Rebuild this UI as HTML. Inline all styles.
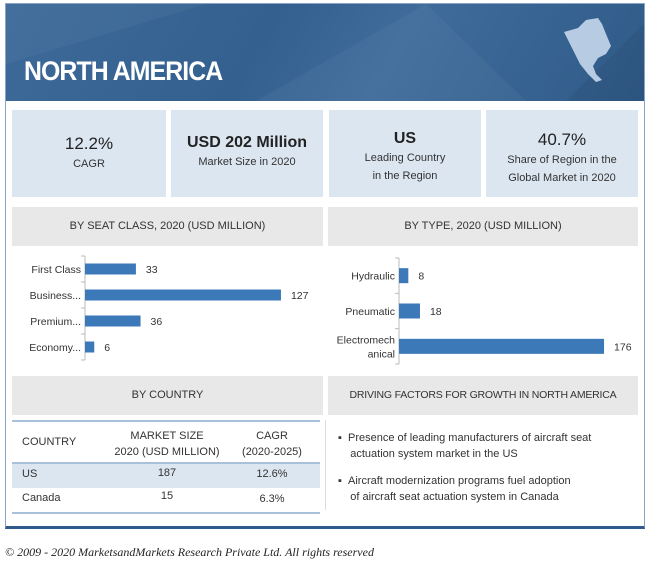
<!DOCTYPE html>
<html><head><meta charset="utf-8">
<style>
body{margin:0;width:650px;height:564px;background:#fff;font-family:"Liberation Sans",sans-serif;position:relative;overflow:hidden}
.a{position:absolute}
.frame{left:5px;top:3px;width:638px;height:522px;border:1px solid #8aa4c4;border-bottom:3px solid #2f5b8c}
.hdr{left:6px;top:4px;width:638px;height:97px;background:linear-gradient(120deg,#3d6a99 0%,#34608f 40%,#3f6c9b 60%,#2f5a88 100%)}
.kpi{top:110px;height:87px;background:#dce6f1;text-align:center;color:#333}
.kpi b{display:block;font-size:17px;font-weight:normal;color:#222;margin-top:24px}
.kpi span{font-size:11px;line-height:15px}
.sh{background:#e8e8e8;text-align:center;font-size:11px;color:#333;line-height:39px}
.t{font-size:11px;color:#333}
</style></head><body>
<div class="a frame"></div>
<div class="a hdr">
<svg width="638" height="97" style="position:absolute;left:0;top:0"><polygon points="0,0 200,0 0,60" fill="#ffffff" opacity="0.04"/><polygon points="250,97 420,0 520,97" fill="#ffffff" opacity="0.04"/><polygon points="560,97 638,20 638,97" fill="#000" opacity="0.06"/>
<path d="M558,28 L572,24 L580,16 L592,14 L596,20 L600,30 L605,42 L600,50 L592,54 L587,62 L590,70 L596,76 L590,78 L582,70 L574,60 L566,44 Z" fill="#b7cbe3"/></svg>
<div class="a" style="left:18px;top:52px;font-size:27px;font-weight:bold;color:#fff;letter-spacing:-1px;transform:scaleX(0.92);transform-origin:left top">NORTH AMERICA</div>
</div>
<div class="a kpi" style="left:12px;width:154px"><b>12.2%</b><span>CAGR</span></div>
<div class="a kpi" style="left:171px;width:152px"><b style="font-weight:bold;font-size:16px">USD 202 Million</b><span>Market Size in 2020</span></div>
<div class="a kpi" style="left:329px;width:152px"><b style="margin-top:20px;font-weight:bold;font-size:16px">US</b><span>Leading Country<br>in the Region</span></div>
<div class="a kpi" style="left:486px;width:152px"><b style="margin-top:20px">40.7%</b><span>Share of Region in the<br>Global Market in 2020</span></div>
<div class="a sh" style="left:12px;top:207px;width:311px;height:39px">BY SEAT CLASS, 2020 (USD MILLION)</div>
<div class="a sh" style="left:328px;top:207px;width:310px;height:39px">BY TYPE, 2020 (USD MILLION)</div>
<svg class="a" style="left:0;top:250px" width="650" height="125" id="charts"></svg>
<div class="a sh" style="left:12px;top:376px;width:311px;height:39px">BY COUNTRY</div>
<div class="a sh" style="left:328px;top:376px;width:310px;height:39px;font-size:10.5px;letter-spacing:-0.2px">DRIVING FACTORS FOR GROWTH IN NORTH AMERICA</div>
<div class="a" style="left:12px;top:420px;width:308px;height:90px;border-top:2px solid #a9c0db;border-bottom:2px solid #a9c0db">
<div class="a t" style="left:10px;top:14px">COUNTRY</div>
<div class="a t" style="left:95px;top:6px;width:120px;text-align:center;line-height:16px">MARKET SIZE<br>2020 (USD MILLION)</div>
<div class="a t" style="left:225px;top:6px;width:70px;text-align:center;line-height:16px">CAGR<br>(2020-2025)</div>
<div class="a" style="left:0;top:40px;width:308px;height:24px;background:#dce6f1;border-top:2px solid #a9c0db"></div>
<div class="a t" style="left:10px;top:46px">US</div><div class="a t" style="left:95px;top:45px;width:120px;text-align:center">187</div><div class="a t" style="left:225px;top:46px;width:70px;text-align:center">12.6%</div>
<div class="a t" style="left:10px;top:70px">Canada</div><div class="a t" style="left:95px;top:68px;width:120px;text-align:center">15</div><div class="a t" style="left:225px;top:71px;width:70px;text-align:center">6.3%</div>
</div>
<div class="a" style="left:325px;top:420px;width:1px;height:90px;background:#ddd"></div>
<div class="a t" style="left:338px;top:430px;line-height:16px;font-size:11px">▪ &nbsp;Presence of leading manufacturers of aircraft seat<br>&nbsp;&nbsp;&nbsp;&nbsp;actuation system market in the US</div>
<div class="a t" style="left:338px;top:473px;line-height:16px;font-size:11px">▪ &nbsp;Aircraft modernization programs fuel adoption<br>&nbsp;&nbsp;&nbsp;&nbsp;of aircraft seat actuation system in Canada</div>
<div class="a" style="left:5px;top:545px;font-family:'Liberation Serif',serif;font-style:italic;font-size:12px;color:#222">© 2009 - 2020 MarketsandMarkets Research Private Ltd. All rights reserved</div>
<script>
const seatCats=["First Class","Business...","Premium...","Economy..."];
const seatVals=[33,127,36,6];
const typeCats=[["Hydraulic"],["Pneumatic"],["Electromech","anical"]];
const typeVals=[8,18,176];
const svg=document.getElementById('charts');const NS="http://www.w3.org/2000/svg";
function mk(t,a){const e=document.createElementNS(NS,t);for(const k in a)e.setAttribute(k,a[k]);svg.appendChild(e);return e;}
function chart(cats,vals,x0,top,h,scale,bh,name){
 const n=cats.length,step=h/n;
 const ax=mk('line',{x1:x0,x2:x0,y1:top,y2:top+h,stroke:'#bbb'});
 
 for(let i=0;i<=n;i++){mk('line',{x1:x0-4,x2:x0,y1:top+i*step,y2:top+i*step,stroke:'#bbb'});}
 cats.forEach((c,i)=>{const cy=top+(i+0.5)*step;const w=vals[i]*scale;
  const r=mk('rect',{x:x0,y:cy-bh/2,width:w,height:bh,fill:'#3b79b9'});
  
  
  const lines=Array.isArray(c)?c:[c];
  lines.forEach((l,j)=>{const t=mk('text',{x:x0-4,y:cy+4+(j-(lines.length-1)/2)*14,'text-anchor':'end','font-size':'10.5',fill:'#333','font-family':'Liberation Sans'});t.textContent=l;
   });
  const v=mk('text',{x:x0+w+10,y:cy+4,'font-size':'10.5',fill:'#333','font-family':'Liberation Sans'});v.textContent=vals[i];
  });
}
chart(seatCats,seatVals,85,6,104,1.543,11,'seat-class');
chart(typeCats,typeVals,399,8,106,1.165,15,'type');
</script>
</body></html>
